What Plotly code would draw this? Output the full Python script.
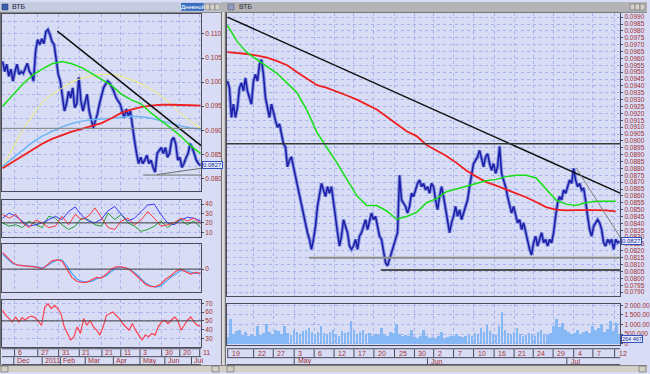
import numpy as np
import plotly.graph_objects as go

W, H = 650, 374

# ---------------- DATA ----------------
# Left chart (daily, Nov 2010 - Jul 2011)
left_close = [
    0.1043, 0.1022, 0.1037, 0.1012, 0.1027, 0.1002, 0.1022, 0.1037, 0.1016, 0.1022,
    0.1018, 0.1029, 0.1039, 0.1022, 0.1016, 0.1002,
    0.1064, 0.1088, 0.1078, 0.1090, 0.1080, 0.1105, 0.1109, 0.1098, 0.1084, 0.1078,
    0.1043, 0.1016, 0.1002, 0.0967, 0.0940, 0.0955, 0.0981, 0.0967, 0.0988, 0.0947,
    0.0955, 0.1010, 0.0961, 0.0940, 0.0961, 0.0975, 0.0940, 0.0920, 0.0905, 0.0920,
    0.0934, 0.0955, 0.0975, 0.0988,
    0.0996, 0.1002, 0.0998, 0.0988, 0.0981, 0.0967, 0.0961, 0.0955, 0.0940, 0.0926,
    0.0944, 0.0930, 0.0940, 0.0905, 0.0879, 0.0852, 0.0831, 0.0844, 0.0831, 0.0838,
    0.0848, 0.0831, 0.0838, 0.0823, 0.0813, 0.0852, 0.0858, 0.0864, 0.0852, 0.0864,
    0.0844, 0.0852, 0.0879, 0.0885, 0.0872, 0.0838, 0.0844, 0.0823, 0.0831, 0.0844,
    0.0852, 0.0872, 0.0864, 0.0852, 0.0838, 0.0831, 0.0827]
left_ma_green = [0.0950, 0.0972, 0.0995, 0.1014, 0.1027, 0.1038, 0.1043, 0.1038, 0.1030, 0.1018,
                 0.1005, 0.0993, 0.0975, 0.0963, 0.0955, 0.0936, 0.0920, 0.0905, 0.0888, 0.0868, 0.0852]
left_ma_yellow = [0.0823, 0.0860, 0.0900, 0.0930, 0.0958, 0.0975, 0.0988, 0.1000, 0.1008, 0.1013,
                  0.1016, 0.1016, 0.1012, 0.1005, 0.0997, 0.0985, 0.0972, 0.0955, 0.0935, 0.0918, 0.0905]
left_ma_blue = [0.0825, 0.0842, 0.0858, 0.0875, 0.0888, 0.0898, 0.0907, 0.0914, 0.0919, 0.0922,
                0.0923, 0.0925, 0.0927, 0.0929, 0.0928, 0.0925, 0.0920, 0.0914, 0.0909, 0.0905, 0.0902]
left_ma_red = [0.0821, 0.0834, 0.0847, 0.0860, 0.0872, 0.0882, 0.0890, 0.0897, 0.0903, 0.0909,
               0.0915, 0.0925, 0.0936, 0.0943, 0.0948, 0.0951, 0.0953, 0.0953, 0.0953, 0.0952, 0.0951]
left_level = 0.0904
left_trend_x, left_trend_y = [44, 159.5], [0.1106, 0.0868]
left_support_x, left_support_y = [113, 159.5], [0.0807, 0.0807]
left_rise_x, left_rise_y = [124, 159.5], [0.0808, 0.0821]
left_last = "0.0827"

dmi_blue = [25, 30.5, 27, 22, 16.5, 18, 20, 23.5, 27, 23.5, 32, 37, 28, 22, 20, 24, 33, 37.5, 29, 22,
            25, 32, 39, 40, 29, 20, 18, 23, 26, 25, 22]
dmi_red = [29, 25, 29, 20, 15, 23, 20, 15, 16.5, 27, 18, 29, 23.5, 27, 36, 25, 15, 13, 22, 25,
           18, 23, 32, 25, 16.5, 18, 20, 25, 22, 25, 20]
dmi_green = [20, 16.5, 18, 15, 22, 18, 15, 27, 25, 18, 13, 16.5, 25, 23.5, 18, 16.5, 30.5, 23.5, 29, 20,
             16.5, 11, 13, 16.5, 22, 15, 20, 23.5, 18, 22, 15]
macd_red = [0.50, 0.35, 0.20, 0.12, 0.10, 0.09, 0.08, 0.06, 0.00,
            0.13, 0.25, 0.28, 0.25, 0.00, -0.25, -0.37, -0.40, -0.40, -0.33, -0.25, -0.27, -0.15, 0.00,
            0.07, 0.07, 0.03, -0.05, -0.20, -0.35, -0.47, -0.53, -0.53, -0.45, -0.30, -0.20, -0.07, 0.00,
            -0.07, -0.15, -0.10, -0.13]
macd_blue = [0.45, 0.30, 0.17, 0.12, 0.10, 0.09, 0.08, 0.07, 0.03, 0.10, 0.20, 0.27, 0.27, 0.10, -0.13,
             -0.30, -0.37, -0.38, -0.37, -0.30, -0.25, -0.20, -0.07, 0.03, 0.05, 0.03, -0.03, -0.15, -0.30,
             -0.43, -0.51, -0.55, -0.51, -0.37, -0.25, -0.15, -0.05, -0.05, -0.10, -0.13, -0.13]
rsi = [62, 56.4, 52.6, 48.9, 54.5, 48.9, 53.8, 50.8, 54.5, 55.3, 53.8, 48.9, 45, 65.8, 69.6, 64, 67.7, 64,
       58.3, 43.2, 35.7, 28.1, 31.9, 43.2, 35.7, 52.6, 45, 50.8, 43.2, 39.4, 33.8, 43.2, 56.4, 58.3, 60.2,
       56.4, 52.6, 47, 43.2, 39.4, 47, 39.4, 33.8, 28.1, 33.8, 31.9, 35.7, 33.8, 43.2, 48.9, 50.8, 47, 50.8,
       54.5, 50.8, 39.4, 45, 50.8, 54.5, 48.9, 45, 44]

left_day_labels = ["6", "27", "31", "21", "21", "11", "3", "30", "20", "11"]
left_day_bar = [9.6, 28.3, 45, 61.6, 79.8, 95, 110.4, 127.8, 142.4, 158.4]
left_month_labels = ["Dec", "2011", "Feb", "Mar", "Apr", "May", "Jun", "Jul"]
left_month_bar = [9.0, 31.8, 46.4, 66.4, 89.0, 110.4, 130.4, 151.8]

# Right chart (hourly, Apr - Jul 2011)
right_close = [
    0.09435, 0.09386, 0.09170, 0.09267, 0.09170, 0.09243, 0.09386, 0.09422, 0.09363, 0.09458,
    0.09363, 0.09314, 0.09267, 0.09435, 0.09483, 0.09435, 0.09555, 0.09591, 0.09483, 0.09314,
    0.09243, 0.09170, 0.09267, 0.09195, 0.09147, 0.09099, 0.09123, 0.09051, 0.08979, 0.08955,
    0.08811, 0.08859, 0.08883, 0.08811, 0.08739, 0.08667, 0.08619, 0.08547, 0.08451, 0.08404,
    0.08332, 0.08283, 0.08211, 0.08283, 0.08379, 0.08523, 0.08619, 0.08691, 0.08643, 0.08595,
    0.08667, 0.08619, 0.08667, 0.08547, 0.08427, 0.08332, 0.08235, 0.08307, 0.08427, 0.08379,
    0.08332, 0.08235, 0.08211, 0.08235, 0.08283, 0.08211, 0.08307, 0.08332, 0.08379, 0.08427,
    0.08355, 0.08427, 0.08475, 0.08427, 0.08451, 0.08379, 0.08307, 0.08283, 0.08187, 0.08115,
    0.08091, 0.08139, 0.08187, 0.08235, 0.08283, 0.08332, 0.08750, 0.08571, 0.08547, 0.08523,
    0.08475, 0.08523, 0.08619, 0.08595, 0.08643, 0.08691, 0.08715, 0.08667, 0.08691, 0.08643,
    0.08667, 0.08619, 0.08691,
    0.08667, 0.08571, 0.08499, 0.08595, 0.08667, 0.08595, 0.08499, 0.08427, 0.08332, 0.08404,
    0.08451, 0.08523, 0.08451, 0.08499, 0.08427, 0.08475, 0.08523, 0.08571, 0.08667, 0.08763,
    0.08835, 0.08859, 0.08883, 0.08931, 0.08859, 0.08811, 0.08883, 0.08907, 0.08835, 0.08787,
    0.08835, 0.08763, 0.08811, 0.08960, 0.08763, 0.08715, 0.08667, 0.08595, 0.08523, 0.08475,
    0.08523, 0.08451, 0.08404, 0.08427, 0.08355, 0.08404, 0.08332, 0.08283, 0.08211, 0.08170,
    0.08259, 0.08307, 0.08235, 0.08283, 0.08332, 0.08259, 0.08283, 0.08235, 0.08283, 0.08259,
    0.08332, 0.08451, 0.08547, 0.08595, 0.08571, 0.08643, 0.08619, 0.08667, 0.08715, 0.08691,
    0.08800, 0.08715, 0.08667, 0.08691, 0.08643, 0.08655, 0.08571, 0.08451, 0.08355, 0.08307,
    0.08379, 0.08404, 0.08427, 0.08404, 0.08355, 0.08259, 0.08235, 0.08283, 0.08259, 0.08283,
    0.08211, 0.08283, 0.08259, 0.08270]
right_ma_green = [0.0984, 0.0972, 0.0964, 0.0959, 0.0954, 0.0949, 0.0942, 0.0935, 0.0922, 0.0906,
                  0.0895, 0.0884, 0.0872, 0.0860, 0.0853, 0.0853, 0.0849, 0.0843, 0.0845, 0.0848,
                  0.0855, 0.0858, 0.0863, 0.0865, 0.0867, 0.0869, 0.0871, 0.0872, 0.0874, 0.0875,
                  0.0875, 0.0873, 0.0865, 0.0857, 0.0854, 0.0853, 0.0855, 0.0856, 0.0856, 0.0856]
right_ma_red = [0.09645, 0.09640, 0.09632, 0.09620, 0.09605, 0.09580, 0.09550, 0.09500, 0.09450, 0.09405,
                0.09385, 0.09360, 0.09330, 0.09300, 0.09265, 0.09228, 0.09176, 0.09120, 0.09070, 0.09035,
                0.08970, 0.08930, 0.08890, 0.08840, 0.08785, 0.08740, 0.08700, 0.08675, 0.08648, 0.08620,
                0.08590, 0.08555, 0.08518, 0.08500, 0.08495, 0.08497, 0.08498, 0.08496, 0.08494, 0.08488]
right_volume = [
    350, 1300, 500, 650, 700, 450, 600, 380, 500, 420,
    900, 450, 550, 1050, 600, 500, 700, 650, 480, 900,
    550, 450, 700, 600, 500, 650, 700, 800, 620, 500,
    600, 900, 550, 480, 600, 700, 500, 420, 650, 550,
    600, 1200, 700, 500, 620, 700, 480, 550, 400, 500,
    450, 800, 500, 420, 600, 550, 1050, 500, 380, 450,
    400, 700, 350, 300, 420, 700, 380, 300, 350, 280,
    400, 600, 300, 350, 420, 380, 500, 420, 350, 400,
    450, 380, 550, 500, 800, 600, 1000, 650, 500, 450,
    900, 1650, 700, 550, 450, 600, 800, 500, 400, 450,
    550, 500, 420, 600, 700, 500, 450, 550, 900, 1300,
    850, 1100, 700, 600, 500, 550, 700, 500, 600, 650,
    550, 900, 700, 800, 1050, 600, 750, 1200, 650, 1100, 500]
right_level = 0.0898
right_support_hi_x, right_support_hi_y = [83, 399.5], [0.0815, 0.0815]
right_support_lo_x, right_support_lo_y = [156, 399.5], [0.0806, 0.0806]
right_trend_x, right_trend_y = [0, 399.5], [0.0990, 0.0862]
right_trend2_x, right_trend2_y = [355, 399.5], [0.0880, 0.0830]
right_last = "0.0827"
right_last_vol = "264 467"

right_day_labels = ["19", "22", "27", "3", "6", "12", "17", "20", "25", "30",
                    "2", "7", "10", "16", "21", "24", "29", "4", "7", "12"]
right_day_bar = [0.3, 26.6, 46.6, 67.9, 88.2, 108.5, 128.7, 149, 170, 190.3,
                 209.8, 230, 250.4, 271.3, 291.6, 311.1, 331.3, 352.3, 371.8, 393.9]
right_month_labels = ["May", "Jun", "Jul"]
right_month_bar = [67.9, 203.5, 345.3]

left_price_ticks = [0.080, 0.085, 0.090, 0.095, 0.100, 0.105, 0.110]
right_price_ticks = [round(0.0790 + 0.0005 * i, 4) for i in range(41)]
vol_ticks = [0, 500, 1000, 1500, 2000]
vol_tick_text = ["0", "500.000", "1 000.00", "1 500.00", "2 000.00"]

# ---------------- STYLE ----------------
BG = "#d8dcf4"
GRID = "#a7b3ec"
FRAME = "#4a4a5a"
LBL = "#a33030"
FONT = "Liberation Sans"
PRICE = "#1c1ca6"
HALO = "#8090e0"


def ydom(top, bot):
    return [1 - bot / H, 1 - top / H]


def xdom(a, b):
    return [a / W, b / W]


fig = go.Figure()

# left main
lx = np.linspace(0, 159, len(left_close))
lmx = np.linspace(0, 159, len(left_ma_green))
fig.add_trace(go.Scatter(x=lx, y=left_close, mode="lines", line=dict(color=HALO, width=3.5), xaxis="x", yaxis="y"))
fig.add_trace(go.Scatter(x=lx, y=left_close, mode="lines", line=dict(color=PRICE, width=1.5), xaxis="x", yaxis="y"))
fig.add_trace(go.Scatter(x=lmx, y=left_ma_yellow, mode="lines", line=dict(color="#f4f070", width=1), xaxis="x", yaxis="y"))
fig.add_trace(go.Scatter(x=lmx, y=left_ma_blue, mode="lines", line=dict(color="#6cb4f4", width=1.5), xaxis="x", yaxis="y"))
fig.add_trace(go.Scatter(x=lmx, y=left_ma_red, mode="lines", line=dict(color="#f02020", width=1.8), xaxis="x", yaxis="y"))
fig.add_trace(go.Scatter(x=lmx, y=left_ma_green, mode="lines", line=dict(color="#18e018", width=1.5), xaxis="x", yaxis="y"))
fig.add_trace(go.Scatter(x=left_trend_x, y=left_trend_y, mode="lines", line=dict(color="#101010", width=1.5), xaxis="x", yaxis="y"))
fig.add_trace(go.Scatter(x=left_support_x, y=left_support_y, mode="lines", line=dict(color="#707070", width=1), xaxis="x", yaxis="y"))
fig.add_trace(go.Scatter(x=left_rise_x, y=left_rise_y, mode="lines", line=dict(color="#707070", width=1), xaxis="x", yaxis="y"))

# DMI
dx = np.linspace(0, 159, len(dmi_blue))
fig.add_trace(go.Scatter(x=dx, y=dmi_green, mode="lines", line=dict(color="#20a030", width=1), xaxis="x2", yaxis="y2"))
fig.add_trace(go.Scatter(x=dx, y=dmi_blue, mode="lines", line=dict(color="#3838ff", width=1), xaxis="x2", yaxis="y2"))
fig.add_trace(go.Scatter(x=dx, y=dmi_red, mode="lines", line=dict(color="#ff3838", width=1), xaxis="x2", yaxis="y2"))
# MACD
mx = np.linspace(0, 159, len(macd_red))
fig.add_trace(go.Scatter(x=mx, y=macd_blue, mode="lines", line=dict(color="#40a8ff", width=1.2), xaxis="x3", yaxis="y3"))
fig.add_trace(go.Scatter(x=mx, y=macd_red, mode="lines", line=dict(color="#ff4050", width=1.2), xaxis="x3", yaxis="y3"))
# RSI
rx = np.linspace(0, 159, len(rsi))
fig.add_trace(go.Scatter(x=rx, y=rsi, mode="lines", line=dict(color="#ff4050", width=1.2), xaxis="x4", yaxis="y4"))

# right main
rxp = np.linspace(0, 399, len(right_close))
rmx = np.linspace(0, 395, len(right_ma_green))
fig.add_trace(go.Scatter(x=rxp, y=right_close, mode="lines", line=dict(color=HALO, width=3.5), xaxis="x5", yaxis="y5"))
fig.add_trace(go.Scatter(x=rxp, y=right_close, mode="lines", line=dict(color=PRICE, width=1.5), xaxis="x5", yaxis="y5"))
fig.add_trace(go.Scatter(x=rmx, y=right_ma_red, mode="lines", line=dict(color="#f02020", width=1.8), xaxis="x5", yaxis="y5"))
fig.add_trace(go.Scatter(x=rmx, y=right_ma_green, mode="lines", line=dict(color="#18e018", width=1.5), xaxis="x5", yaxis="y5"))
fig.add_trace(go.Scatter(x=right_trend_x, y=right_trend_y, mode="lines", line=dict(color="#101010", width=1.5), xaxis="x5", yaxis="y5"))
fig.add_trace(go.Scatter(x=right_trend2_x, y=right_trend2_y, mode="lines", line=dict(color="#808080", width=1), xaxis="x5", yaxis="y5"))
fig.add_trace(go.Scatter(x=right_support_hi_x, y=right_support_hi_y, mode="lines", line=dict(color="#8c8c8c", width=2), xaxis="x5", yaxis="y5"))
fig.add_trace(go.Scatter(x=right_support_lo_x, y=right_support_lo_y, mode="lines", line=dict(color="#505050", width=2), xaxis="x5", yaxis="y5"))

# volume
vx = np.linspace(0, 399, len(right_volume))
fig.add_trace(go.Bar(x=vx, y=right_volume, width=2.6, marker=dict(color="#86b8f6", line=dict(width=0)),
                     xaxis="x6", yaxis="y6"))

common_x = dict(showticklabels=False, ticks="", showgrid=True, gridcolor=GRID, griddash="dot", gridwidth=1,
                zeroline=False, showline=True, mirror=True, linecolor=FRAME, linewidth=1, fixedrange=True)
common_y = dict(side="right", showgrid=True, gridcolor=GRID, griddash="dot", gridwidth=1, zeroline=False,
                showline=True, mirror=True, linecolor=FRAME, linewidth=1, ticks="outside", ticklen=2,
                tickcolor=FRAME, tickfont=dict(family=FONT, size=6.5, color=LBL), fixedrange=True)

LX = xdom(2, 202)
RX = xdom(228, 623)
layout = dict(
    width=W, height=H, autosize=False, margin=dict(l=0, r=0, t=0, b=0, pad=0),
    paper_bgcolor=BG, plot_bgcolor=BG, showlegend=False, bargap=0,
    font=dict(family=FONT, size=7, color=LBL),
    xaxis=dict(domain=LX, range=[-0.5, 159.5], tickvals=left_day_bar, anchor="y", **common_x),
    xaxis2=dict(domain=LX, range=[-0.5, 159.5], tickvals=left_day_bar, anchor="y2", matches="x", **common_x),
    xaxis3=dict(domain=LX, range=[-0.5, 159.5], tickvals=left_day_bar, anchor="y3", matches="x", **common_x),
    xaxis4=dict(domain=LX, range=[-0.5, 159.5], tickvals=left_day_bar, anchor="y4", matches="x", **common_x),
    xaxis5=dict(domain=RX, range=[-0.5, 399.5], tickvals=right_day_bar, anchor="y5", **common_x),
    xaxis6=dict(domain=RX, range=[-0.5, 399.5], tickvals=right_day_bar, anchor="y6", matches="x5", **common_x),
    yaxis=dict(domain=ydom(12, 191), range=[0.0774, 0.11417], tickvals=left_price_ticks,
               ticktext=["%.3f" % v for v in left_price_ticks], anchor="x",
               minor=dict(dtick=0.0025, showgrid=True, gridcolor=GRID, griddash="dot"), **common_y),
    yaxis2=dict(domain=ydom(200, 238), range=[4.5, 44.5], tickvals=[10, 20, 30, 40], anchor="x2", **common_y),
    yaxis3=dict(domain=ydom(245, 293), range=[-0.69, 0.75], tickvals=[0], ticktext=["0"], anchor="x3", **common_y),
    yaxis4=dict(domain=ydom(301, 349), range=[19.8, 74.2], tickvals=[30, 40, 50, 60, 70], anchor="x4", **common_y),
    yaxis5=dict(domain=ydom(11, 297), range=[0.07873, 0.09931], tickvals=right_price_ticks,
                ticktext=["%.4f" % v for v in right_price_ticks], anchor="x5", **common_y),
    yaxis6=dict(domain=ydom(305, 347), range=[-90, 2090], tickvals=vol_ticks, ticktext=vol_tick_text,
                anchor="x6", **common_y),
)
fig.update_layout(**layout)

shapes = []
annots = []


def prect(x0, y0, x1, y1, fill, line=None, lw=0, layer="above"):
    shapes.append(dict(type="rect", xref="paper", yref="paper", x0=x0 / W, x1=x1 / W, y0=1 - y1 / H,
                       y1=1 - y0 / H, fillcolor=fill, line=dict(color=line or fill, width=lw), layer=layer))


def pline(x0, y0, x1, y1, color, w=1):
    shapes.append(dict(type="line", xref="paper", yref="paper", x0=x0 / W, x1=x1 / W, y0=1 - y0 / H,
                       y1=1 - y1 / H, line=dict(color=color, width=w), layer="above"))


def ptext(x, y, text, size=7, color="#202020", anchor="left"):
    annots.append(dict(xref="paper", yref="paper", x=x / W, y=1 - y / H, text=text, showarrow=False,
                       xanchor=anchor, yanchor="middle", font=dict(family=FONT, size=size, color=color)))


# level lines (data based)
shapes.append(dict(type="line", xref="x", yref="y", x0=-0.5, x1=159.5, y0=left_level, y1=left_level,
                   line=dict(color="#808080", width=1), layer="above"))
shapes.append(dict(type="line", xref="x2", yref="y2", x0=-0.5, x1=159.5, y0=20, y1=20,
                   line=dict(color="#404040", width=1), layer="above"))
shapes.append(dict(type="line", xref="x3", yref="y3", x0=-0.5, x1=159.5, y0=0, y1=0,
                   line=dict(color="#404040", width=1), layer="above"))
shapes.append(dict(type="line", xref="x4", yref="y4", x0=-0.5, x1=159.5, y0=50, y1=50,
                   line=dict(color="#404040", width=1), layer="above"))
shapes.append(dict(type="line", xref="x5", yref="y5", x0=-0.5, x1=399.5, y0=right_level, y1=right_level,
                   line=dict(color="#3a3a3a", width=1.5), layer="above"))

# window title bars
prect(0, 0, 222, 10, "#c6cce0")
ptext(10, 5, "ВТБ", 7, "#202040")
prect(2, 2, 8, 8, "#3a60b0", "#203060", 0.5)
prect(182, 1, 205, 9, "#3a6ec0")
ptext(193.5, 5, "Дневной", 6, "#ffffff", "center")
for bx in (206, 211, 216):
    prect(bx, 2, bx + 5, 8, "#d4d0c8", "#606060", 0.5)
prect(222, 0, 650, 10, "#b4b4b8")
ptext(238, 5, "ВТБ", 7, "#303030")
prect(229, 2, 235, 8, "#909cc0", "#505060", 0.5)
for bx in (633, 638, 643):
    prect(bx, 2, bx + 5, 8, "#d4d0c8", "#606060", 0.5)
pline(0, 10.5, 650, 10.5, "#808080", 1)

# divider between windows
prect(222, 10, 227, 367, "#c8c8cc")
pline(222.5, 10, 222.5, 367, "#707070", 1)
pline(224, 10, 224, 367, "#f0f0f0", 1)
pline(226.5, 10, 226.5, 367, "#707070", 1)
pline(0.5, 10, 0.5, 367, "#707070", 1)

# bottom scrollbars
prect(0, 367, 650, 374, "#d4d0c8")
pline(0, 367.5, 650, 367.5, "#808080", 1)
for bx in (1, 213, 228, 642):
    prect(bx, 368, bx + 7, 374, "#d4d0c8", "#606060", 0.6)

# date rows: left
pline(2, 350.5, 202, 350.5, FRAME, 1)
pline(2, 358.5, 202, 358.5, FRAME, 1)
pline(2, 366.5, 202, 366.5, FRAME, 1)
for b, t in zip(left_day_bar, left_day_labels):
    shapes.append(dict(type="line", xref="x", yref="paper", x0=b, x1=b, y0=1 - 351 / H, y1=1 - 358 / H,
                       line=dict(color=FRAME, width=1), layer="above"))
    annots.append(dict(xref="x", yref="paper", x=b, y=1 - 354.5 / H, text=t, showarrow=False, xanchor="left",
                       yanchor="middle", xshift=1, font=dict(family=FONT, size=7, color=LBL)))
for b, t in zip(left_month_bar, left_month_labels):
    shapes.append(dict(type="line", xref="x", yref="paper", x0=b, x1=b, y0=1 - 359 / H, y1=1 - 366 / H,
                       line=dict(color=FRAME, width=1), layer="above"))
    annots.append(dict(xref="x", yref="paper", x=b, y=1 - 362.5 / H, text=t, showarrow=False, xanchor="left",
                       yanchor="middle", xshift=1, font=dict(family=FONT, size=7, color=LBL)))

# date rows: right
pline(228, 350.5, 623, 350.5, FRAME, 1)
pline(228, 359.5, 623, 359.5, FRAME, 1)
pline(228, 366.5, 623, 366.5, FRAME, 1)
for b, t in zip(right_day_bar, right_day_labels):
    shapes.append(dict(type="line", xref="x5", yref="paper", x0=b, x1=b, y0=1 - 351 / H, y1=1 - 359 / H,
                       line=dict(color=FRAME, width=1), layer="above"))
    annots.append(dict(xref="x5", yref="paper", x=b, y=1 - 355 / H, text=t, showarrow=False, xanchor="left",
                       yanchor="middle", xshift=2, font=dict(family=FONT, size=7, color=LBL)))
for b, t in zip(right_month_bar, right_month_labels):
    shapes.append(dict(type="line", xref="x5", yref="paper", x0=b, x1=b, y0=1 - 360 / H, y1=1 - 366 / H,
                       line=dict(color=FRAME, width=1), layer="above"))
    annots.append(dict(xref="x5", yref="paper", x=b, y=1 - 363 / H, text=t, showarrow=False, xanchor="left",
                       yanchor="middle", xshift=2, font=dict(family=FONT, size=7, color=LBL)))

# last value boxes
annots.append(dict(xref="paper", yref="y", x=203 / W, y=float(left_last), text=left_last, showarrow=False,
                   xanchor="left", yanchor="middle", bgcolor="#e6e8ff", bordercolor="#3050c0", borderwidth=1,
                   borderpad=0, font=dict(family=FONT, size=6, color="#203090")))
annots.append(dict(xref="paper", yref="y5", x=624 / W, y=float(right_last), text=right_last, showarrow=False,
                   xanchor="left", yanchor="middle", bgcolor="#e6e8ff", bordercolor="#3050c0", borderwidth=1,
                   borderpad=0, font=dict(family=FONT, size=6, color="#203090")))
annots.append(dict(xref="paper", yref="y6", x=624 / W, y=260, text=right_last_vol, showarrow=False,
                   xanchor="left", yanchor="middle", bgcolor="#e6e8ff", bordercolor="#3050c0", borderwidth=1,
                   borderpad=0, font=dict(family=FONT, size=5.5, color="#203090")))

fig.update_layout(shapes=shapes, annotations=annots)

fig.write_html("out.html", config={"displayModeBar": False, "staticPlot": True})
with open("out.html", "r", encoding="utf-8") as f:
    html = f.read()
html = html.replace("<head>", "<head><style>html,body{margin:0;padding:0;overflow:hidden;}</style>", 1)
with open("out.html", "w", encoding="utf-8") as f:
    f.write(html)
